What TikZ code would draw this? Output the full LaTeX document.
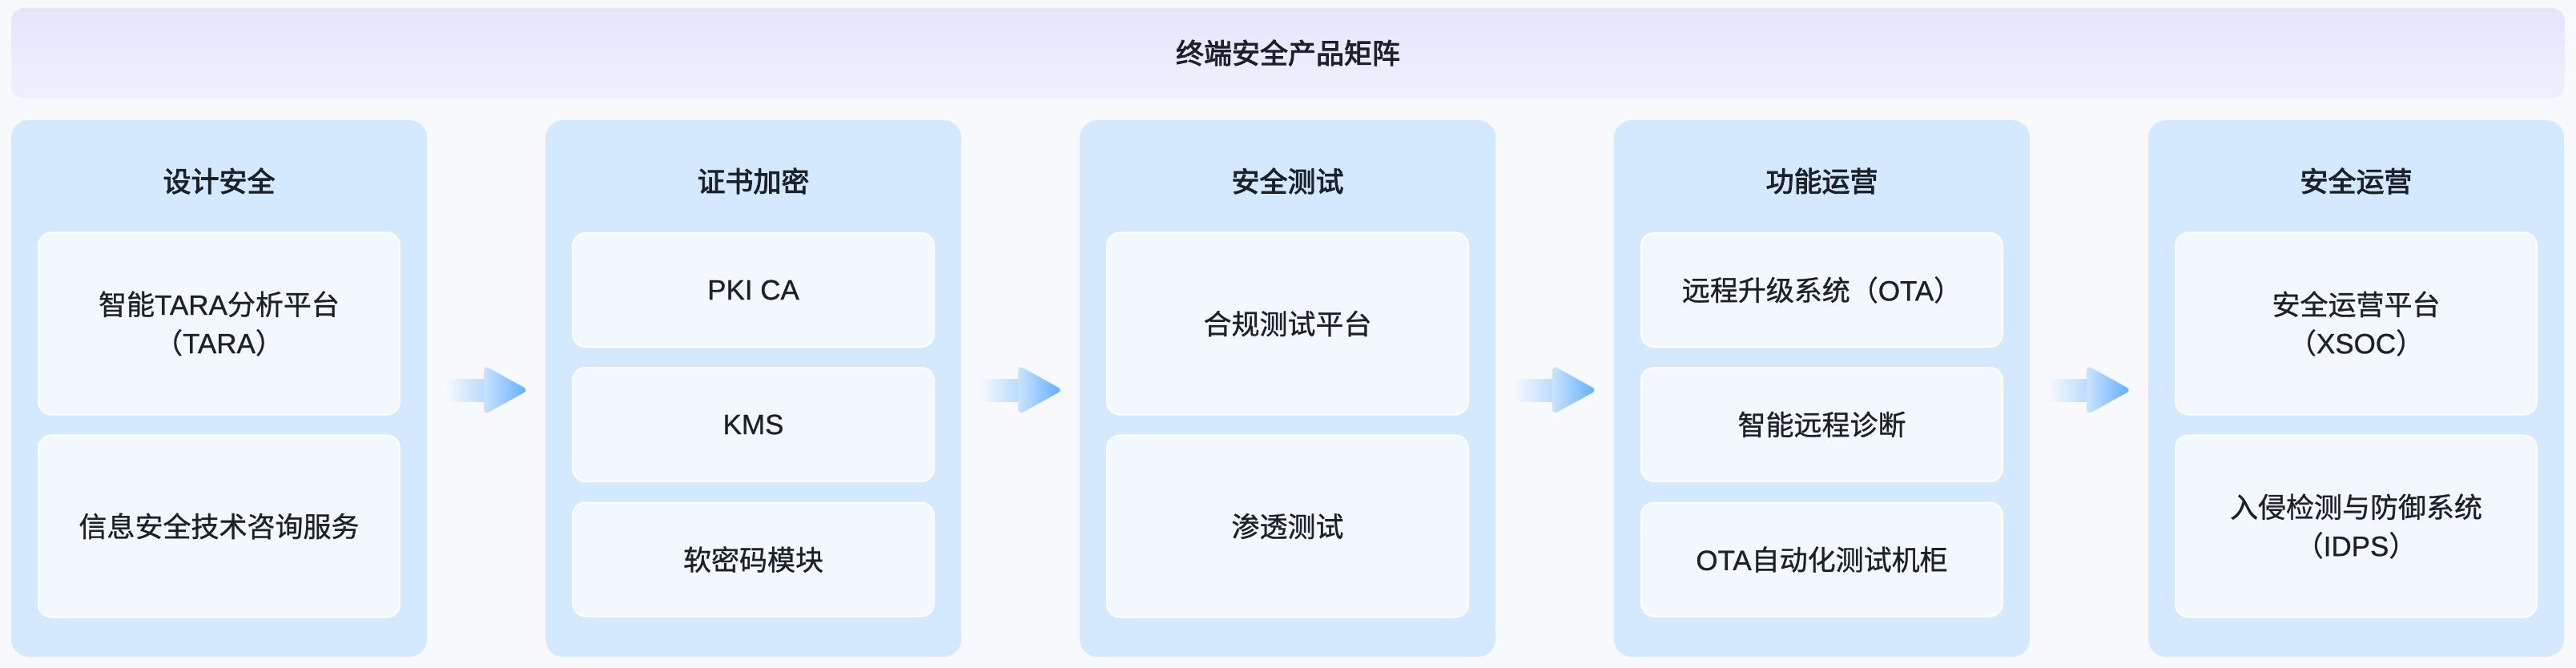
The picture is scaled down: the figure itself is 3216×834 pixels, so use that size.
\documentclass[tikz,border=0pt]{standalone}
\usepackage{fontspec}
\setmainfont{Noto Sans CJK SC}[FakeBold=0.8]
\newfontfamily\medfont{Noto Sans CJK SC}[FakeBold=2.6]
\newfontfamily\lat{Liberation Sans}[FakeBold=0.8]
\usetikzlibrary{calc}
\definecolor{bgc}{HTML}{F7F9FD}
\definecolor{bantop}{HTML}{E4E5FC}
\definecolor{banbot}{HTML}{EFF1FD}
\definecolor{colfill}{HTML}{D4E9FD}
\definecolor{boxfill}{HTML}{F3F8FE}
\definecolor{txt}{HTML}{1D2129}
\definecolor{shaftc}{HTML}{B8DAFF}
\definecolor{headl}{HTML}{C8E3FF}
\definecolor{headr}{HTML}{60ABFF}
\tikzset{
  banner/.style={rounded corners=16pt, top color=bantop, bottom color=banbot, draw=none},
  colbox/.style={rectangle, rounded corners=22pt, fill=colfill, minimum width=519pt, minimum height=670pt, inner sep=0pt},
  coltitle/.style={text=txt, font=\fontsize{35}{42}\selectfont\medfont},
  innerbox/.style={rectangle, rounded corners=16pt, fill=boxfill, draw=white, line width=2pt, minimum width=451pt, align=center, text=txt, font=\fontsize{35}{48}\selectfont},
  tallbox/.style={innerbox, minimum height=227pt},
  shortbox/.style={innerbox, minimum height=142pt},
  flowarrow/.pic={
    \shade[left color=bgc, right color=shaftc] (-51,-14) rectangle (0,14);
    \shade[left color=headl, right color=headr, rounded corners=7pt] (-3,-31) -- (53,0) -- (-3,31) -- cycle;
  }
}
\begin{document}
\begin{tikzpicture}[x=1pt,y=-1pt]
\fill[bgc] (0,0) rectangle (3216,834);
\useasboundingbox (0,0) rectangle (3216,834);
% banner
\path[banner] (14,10) rectangle (3202,123);
\node[coltitle] (bt) at (1608,66) {终端安全产品矩阵};
% columns
\node[colbox] (c1) at (273.5,485) {};
\node[colbox] (c2) at (940.5,485) {};
\node[colbox] (c3) at (1607.5,485) {};
\node[colbox] (c4) at (2274.5,485) {};
\node[colbox] (c5) at (2941.5,485) {};
% titles
\node[coltitle] (t1) at (273.5,226) {设计安全};
\node[coltitle] (t2) at (940.5,226) {证书加密};
\node[coltitle] (t3) at (1607.5,226) {安全测试};
\node[coltitle] (t4) at (2274.5,226) {功能运营};
\node[coltitle] (t5) at (2941.5,226) {安全运营};
% column 1
\node[tallbox] (b11) at (273.5,404) {智能{\lat TARA}分析平台\\（{\lat TARA}）};
\node[tallbox] (b12) at (273.5,657) {信息安全技术咨询服务};
% column 2
\node[shortbox] (b21) at (940.5,362) {\lat PKI CA};
\node[shortbox] (b22) at (940.5,530) {\lat KMS};
\node[shortbox] (b23) at (940.5,698.5) {软密码模块};
% column 3
\node[tallbox] (b31) at (1607.5,404) {合规测试平台};
\node[tallbox] (b32) at (1607.5,657) {渗透测试};
% column 4
\node[shortbox] (b41) at (2274.5,362) {远程升级系统（{\lat OTA}）};
\node[shortbox] (b42) at (2274.5,530) {智能远程诊断};
\node[shortbox] (b43) at (2274.5,698.5) {{\lat OTA}自动化测试机柜};
% column 5
\node[tallbox] (b51) at (2941.5,404) {安全运营平台\\（{\lat XSOC}）};
\node[tallbox] (b52) at (2941.5,657) {入侵检测与防御系统\\（{\lat IDPS}）};
% arrows
\coordinate (a1) at ($(c1.east)!0.5!(c2.west)+(0,2)$);
\coordinate (a2) at ($(c2.east)!0.5!(c3.west)+(0,2)$);
\coordinate (a3) at ($(c3.east)!0.5!(c4.west)+(0,2)$);
\coordinate (a4) at ($(c4.east)!0.5!(c5.west)+(0,2)$);
\pic at (a1) {flowarrow};
\pic at (a2) {flowarrow};
\pic at (a3) {flowarrow};
\pic at (a4) {flowarrow};
\end{tikzpicture}
\end{document}
